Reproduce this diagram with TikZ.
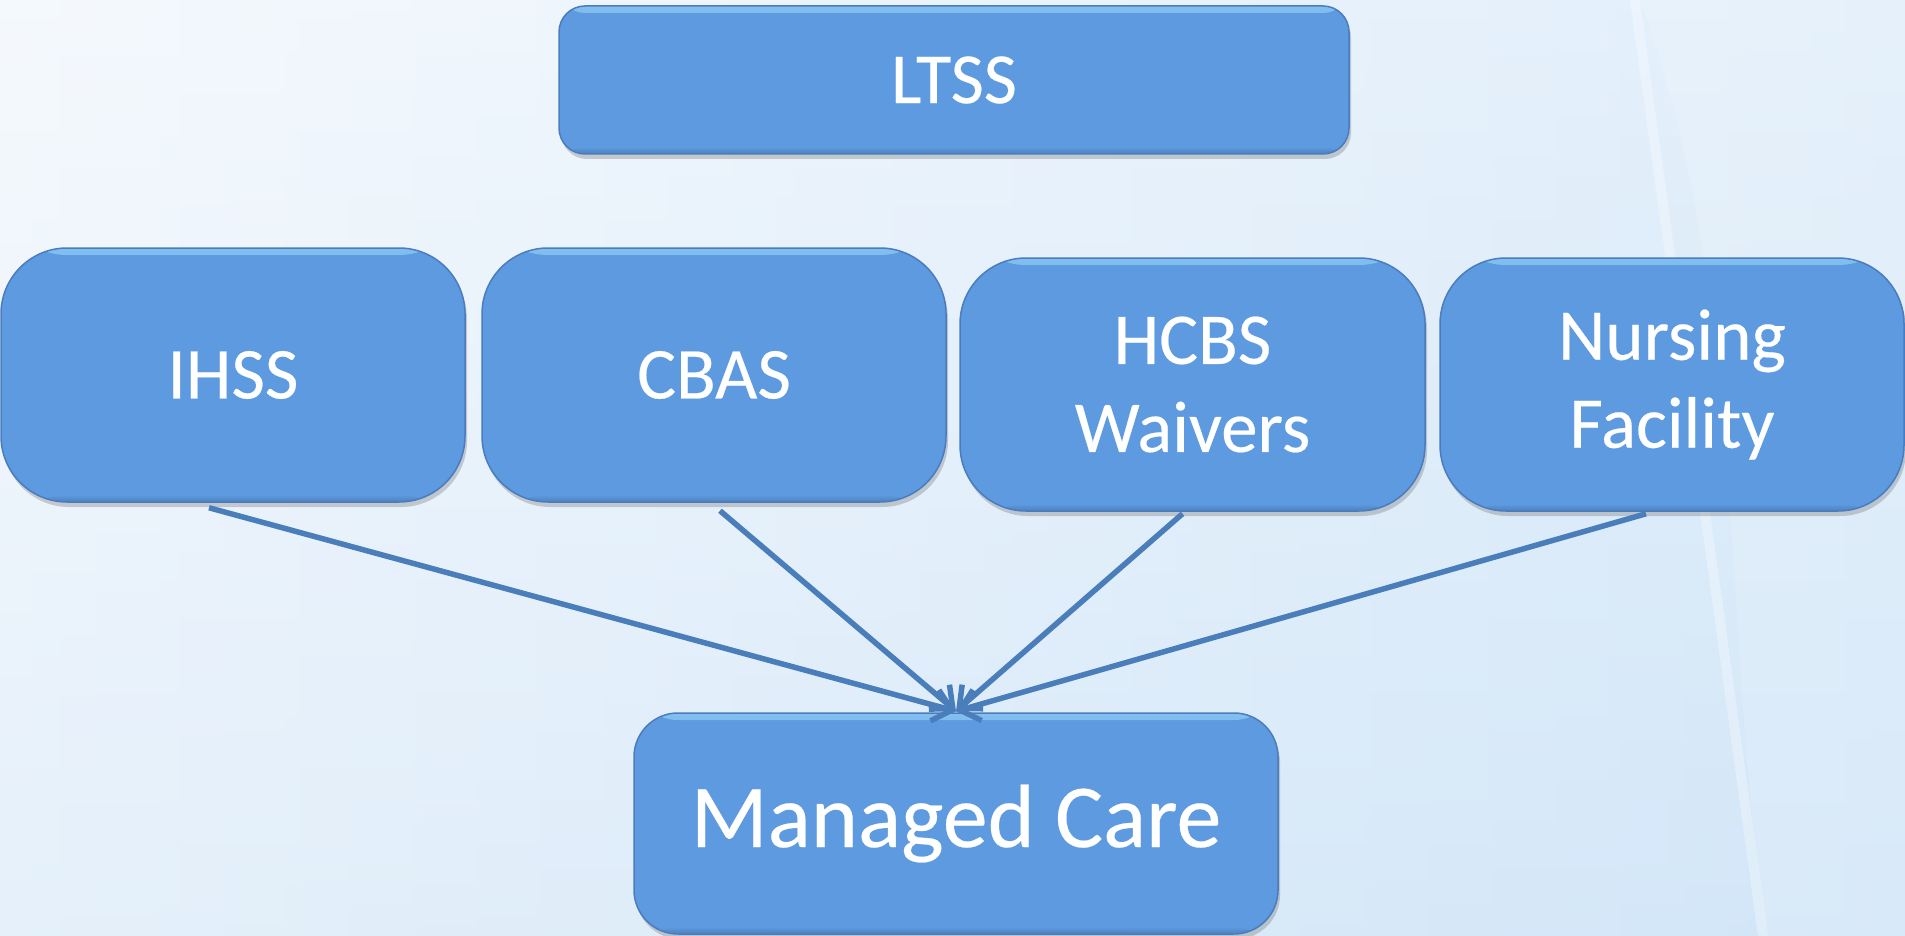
\documentclass[tikz,border=0pt]{standalone}
\usepackage{fontspec}
\setmainfont{Carlito}
\newfontfamily\boxfont{Carlito}[FakeBold=0.3]
\usetikzlibrary{arrows.meta,shadows}
\definecolor{boxblue}{RGB}{93,154,224}
\definecolor{boxedge}{RGB}{74,124,190}
\definecolor{rimlight}{RGB}{140,200,244}
\definecolor{arrowblue}{RGB}{74,126,187}
\definecolor{bgA}{RGB}{240,246,252}
\definecolor{bgB}{RGB}{210,230,248}
\begin{document}
\begin{tikzpicture}[x=1pt,y=-1pt,
  bluebox/.style={rounded corners=#1, fill=boxblue, draw=boxedge, line width=1.5pt,
    text=white, align=center, inner sep=0pt,
    drop shadow={shadow xshift=2pt, shadow yshift=-5pt, opacity=0.3, fill=black!60},
    path picture={
      \fill[top color=rimlight, bottom color=boxblue, opacity=0.8]
        (path picture bounding box.north west) rectangle ([yshift=-7pt]path picture bounding box.north east);
      \fill[top color=boxblue, bottom color=boxblue!80!black, opacity=0.8]
        ([yshift=7pt]path picture bounding box.south west) rectangle (path picture bounding box.south east);
    }},
  midfont/.style={font=\boxfont\fontsize{73}{88}\selectfont},
  link/.style={draw=arrowblue, line width=5.5pt, -{Straight Barb[length=18pt,width=32pt,line width=5.5pt]}}
]
\useasboundingbox (0,0) rectangle (1905,936);
% background
\shade[left color=bgA, right color=bgB] (0,0) rectangle (1905,936);
\shade[top color=white, bottom color=bgB, opacity=0.35] (0,0) rectangle (1905,936);
\fill[white, opacity=0.3] (1630,0) -- (1640,0) -- (1768,936) -- (1758,936) -- cycle;
\fill[white, opacity=0.15] (1640,0) .. controls (1750,300) and (1720,650) .. (1768,936) -- (1905,936) -- (1905,0) -- cycle;

\node[bluebox=26pt, minimum width=790pt, minimum height=148pt, font=\boxfont\fontsize{72}{86}\selectfont] (ltss) at (954,80) {LTSS};
\node[bluebox=66pt, minimum width=464pt, minimum height=254pt, midfont] (ihss) at (233,375) {\raisebox{-3pt}{IHSS}};
\node[bluebox=66pt, minimum width=464pt, minimum height=254pt, midfont] (cbas) at (714,375) {\raisebox{-3pt}{CBAS}};
\node[bluebox=66pt, minimum width=465pt, minimum height=253pt, midfont] (hcbs) at (1192.5,384.5) {\raisebox{-5pt}{HCBS}\\\raisebox{-5pt}{Waivers}};
\node[bluebox=66pt, minimum width=464pt, minimum height=253pt, midfont] (nf) at (1672,384.5) {\raisebox{-6pt}{Nursing}\\\raisebox{-6pt}{Facility}};
\node[bluebox=44pt, minimum width=644pt, minimum height=221pt, font=\boxfont\fontsize{90}{108}\selectfont] (mc) at (956,823.5) {\raisebox{-5pt}{Managed Care}};

\coordinate (tip) at ([yshift=1pt]mc.north);
\draw[link] ([xshift=-24pt,yshift=-5pt]ihss.south) -- (tip);
\draw[link] ([xshift=6pt,yshift=-8pt]cbas.south) -- (tip);
\draw[link] ([xshift=-10pt,yshift=-2pt]hcbs.south) -- (tip);
\draw[link] ([xshift=-26pt,yshift=-2pt]nf.south) -- (tip);
\end{tikzpicture}
\end{document}
